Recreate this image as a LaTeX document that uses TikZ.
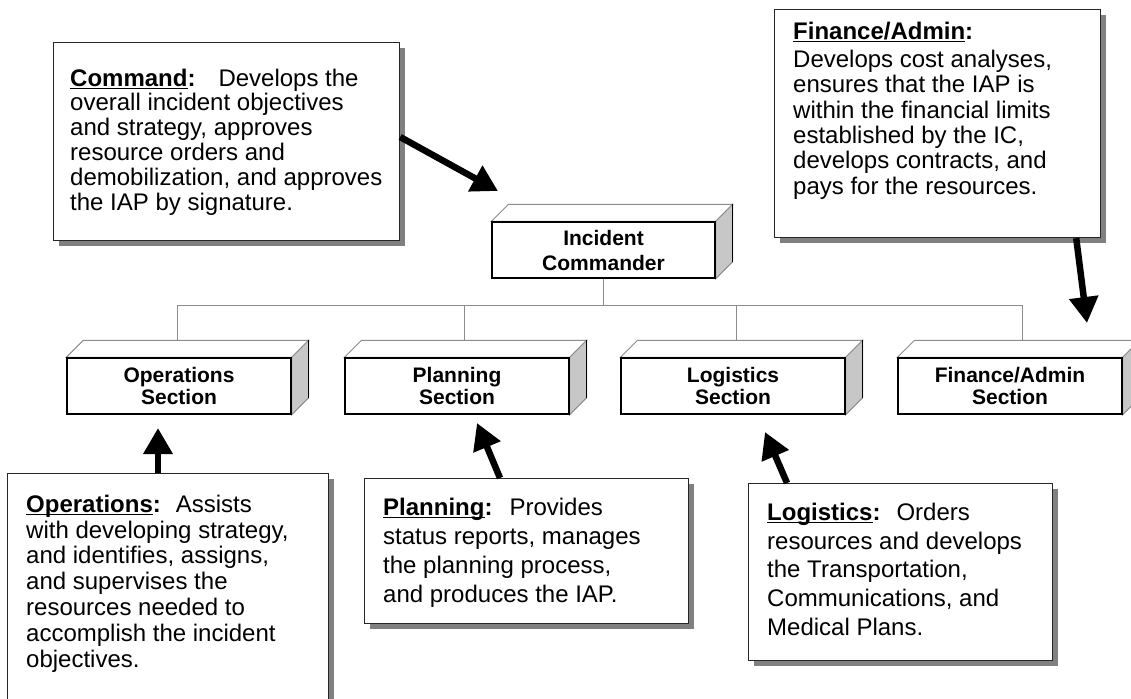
\documentclass[tikz,border=0pt]{standalone}
\usepackage{fontspec}
\setmainfont{Liberation Sans}
\usetikzlibrary{arrows.meta,calc,shadows}
\newcommand{\hdul}[1]{\setbox0=\hbox{\bfseries #1}\rlap{\rule[-3pt]{\wd0}{1.2pt}}\box0}
\newcommand{\threed}[1]{%
  \draw[topface] (#1.north west) -- ++(17,-17) -- ($(#1.north east)+(17,-17)$) -- (#1.north east) -- cycle;
  \draw[sideface] (#1.north east) -- ($(#1.north east)+(17,-17)$) -- ($(#1.south east)+(17,-17)$) -- (#1.south east) -- cycle;
  \draw[black, line width=1.3pt] ($(#1.north east)+(17,-17)$) -- ($(#1.south east)+(17,-17)$);
  \draw[black, line width=1.3pt] (#1.north west) rectangle (#1.south east);
}
\begin{document}
\begin{tikzpicture}[x=1pt,y=-1pt,
  txtbox/.style={draw=black!85, line width=1.2pt, fill=white, inner sep=0pt, anchor=north west,
    drop shadow={shadow xshift=5pt, shadow yshift=-5pt, fill=black!50, opacity=1}},
  txt/.style={anchor=north west, inner sep=0pt, align=left},
  front/.style={draw=black, line width=1.3pt, fill=white, minimum width=224pt, minimum height=56pt,
    inner sep=0pt, font=\bfseries\fontsize{21}{22}\selectfont, align=center},
  topface/.style={draw=black!45, line width=1pt, fill=white},
  sideface/.style={draw=black!45, line width=1pt, fill=black!22},
  conn/.style={draw=black!45, line width=1pt},
  bigarrow/.style={line width=6.5pt, -{Triangle[length=26pt,width=28pt]}},
]
\useasboundingbox (0,0) rectangle (1131,698);
\fill[white] (0,0) rectangle (1131,698);

% org chart boxes
\node[front, font=\bfseries\fontsize{21}{25}\selectfont, minimum width=223pt] (ic) at (603.5,250) {Incident\\Commander};
\node[front] (ops) at (179,386) {Operations\\Section};
\node[front] (plan) at (457,386) {Planning\\Section};
\node[front] (log) at (733,386) {Logistics\\Section};
\node[front] (fin) at (1010,386) {Finance/Admin\\Section};

% connectors
\coordinate (bus) at (600,305);
\coordinate (opsTop) at (177,341);
\coordinate (planTop) at (464,341);
\coordinate (logTop) at (736,341);
\coordinate (finTop) at (1022,341);
\draw[conn] (ic.south) -- (ic.south |- bus);
\draw[conn] (opsTop) |- (finTop |- bus) -- (finTop);
\draw[conn] (planTop) -- (planTop |- bus);
\draw[conn] (logTop) -- (logTop |- bus);

\threed{ic}
\threed{ops}
\threed{plan}
\threed{log}
\threed{fin}

% text boxes
\node[txtbox, minimum width=346pt, minimum height=198pt] (cmdbox) at (53,42) {};
\node[txt, font=\fontsize{24}{24.8}\selectfont] (cmdtxt) at (70,68.5)
 {\hdul{Command}\textbf{:}\hspace{23pt}Develops the\\overall incident objectives\\and strategy, approves\\resource orders and\\demobilization, and approves\\the IAP by signature.};

\node[txtbox, minimum width=326pt, minimum height=228pt] (finbox) at (774,9) {};
\node[txt, font=\fontsize{24}{25.4}\selectfont] (fintxt) at (793,21.7)
 {\hdul{Finance/Admin}\textbf{:}\\[2.6pt]Develops cost analyses,\\ensures that the IAP is\\within the financial limits\\established by the IC,\\develops contracts, and\\pays for the resources.};

\node[txtbox, minimum width=321pt, minimum height=260pt] (opsbox) at (7,473) {};
\node[txt, font=\fontsize{24}{25.8}\selectfont] (opstxt) at (26,494.7)
 {\hdul{Operations}\textbf{:}\hspace{15pt}Assists\\with developing strategy,\\and identifies, assigns,\\and supervises the\\resources needed to\\accomplish the incident\\objectives.};

\node[txtbox, minimum width=324pt, minimum height=145pt] (planbox) at (364,478) {};
\node[txt, font=\fontsize{24}{29}\selectfont] (plantxt) at (383,497.7)
 {\hdul{Planning}\textbf{:}\hspace{17pt}Provides\\status reports, manages\\the planning process,\\and produces the IAP.};

\node[txtbox, minimum width=304pt, minimum height=177pt] (logbox) at (748,483) {};
\node[txt, font=\fontsize{24}{28.75}\selectfont] (logtxt) at (767,502.7)
 {\hdul{Logistics}\textbf{:}\hspace{16pt}Orders\\resources and develops\\the Transportation,\\Communications, and\\Medical Plans.};

% arrows
\coordinate (cmdTip) at (498,191);
\coordinate (finTip) at (1087,323);
\coordinate (opsTip) at (158,428);
\coordinate (planTip) at (477,423);
\coordinate (logTip) at (765,432);
\draw[bigarrow] ($(cmdbox.north east)+(0,95)$) -- (cmdTip);
\draw[bigarrow] ($(finbox.south east)+(-25,0)$) -- (finTip);
\draw[bigarrow] ($(opsbox.north west)+(151,0)$) -- (opsTip);
\draw[bigarrow] ($(planbox.north west)+(136,0)$) -- (planTip);
\draw[bigarrow] ($(logbox.north west)+(39,0)$) -- (logTip);
\end{tikzpicture}
\end{document}
